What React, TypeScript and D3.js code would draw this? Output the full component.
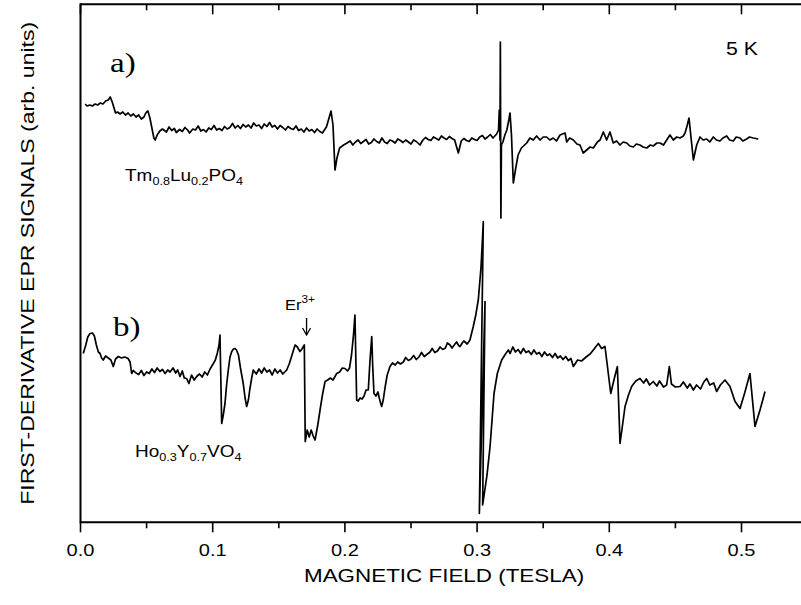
import React from "react";
import * as d3 from "d3";

// EPR traces: [magnetic field (T), first-derivative signal (arb. units, offset per trace)]
const traceA: [number, number][] = [
  [0.0035,79.2],[0.005,78.8],[0.007,79.0],[0.009,78.8],[0.011,79.2],[0.013,79.0],[0.015,79.4],[0.017,79.2],[0.019,79.8],[0.021,80.0],[0.0225,80.6],[0.024,79.6],
  [0.0265,77.4],[0.028,77.6],[0.030,77.2],[0.032,77.6],[0.034,77.0],[0.036,77.4],[0.038,76.8],[0.040,77.2],[0.042,76.6],[0.044,77.0],[0.046,76.2],[0.048,76.6],
  [0.049,77.2],[0.050,77.6],[0.051,77.8],[0.0525,76.4],[0.054,74.4],[0.0555,72.4],[0.0565,72.0],[0.058,73.0],[0.060,73.8],[0.062,74.2],
  [0.065,73.6],[0.067,74.6],[0.069,73.9],[0.071,74.3],[0.0725,73.5],[0.075,74.1],[0.077,73.7],[0.079,74.5],[0.081,74.0],[0.0825,73.4],[0.085,74.2],[0.087,74.0],
  [0.089,74.8],[0.091,73.8],[0.093,74.1],[0.095,73.6],[0.097,74.4],[0.099,74.1],[0.101,74.9],[0.103,74.0],[0.105,74.3],[0.107,73.9],[0.109,74.7],[0.111,74.2],
  [0.113,74.5],[0.115,75.3],[0.117,74.4],[0.119,74.9],[0.121,74.3],[0.123,75.1],[0.125,74.6],[0.127,75.0],[0.129,74.4],[0.131,75.4],[0.133,74.8],[0.135,75.0],
  [0.137,74.3],[0.139,75.2],[0.141,74.7],[0.143,75.5],[0.145,74.6],[0.147,74.9],[0.149,74.2],[0.151,74.9],[0.153,74.5],[0.155,74.0],[0.157,74.7],[0.159,74.3],
  [0.161,74.1],[0.163,74.8],[0.165,73.9],[0.167,74.2],[0.169,73.6],[0.171,74.4],[0.173,73.8],[0.175,74.1],[0.177,73.5],[0.179,74.2],[0.181,73.7],[0.183,73.4],
  [0.185,74.2],[0.186,74.6],[0.188,76.4],[0.1895,77.8],[0.191,75.0],[0.1925,66.0],[0.194,68.4],[0.196,70.4],
  [0.199,71.0],[0.2016,71.4],[0.204,71.8],[0.206,71.0],[0.208,71.6],[0.210,72.0],[0.212,71.3],[0.214,71.7],[0.216,72.1],[0.218,71.2],[0.220,71.5],[0.222,72.2],
  [0.224,71.7],[0.226,71.4],[0.228,72.4],[0.230,71.6],[0.232,71.3],[0.234,72.0],[0.236,71.8],[0.238,71.4],[0.240,72.2],[0.242,71.9],[0.244,71.5],[0.246,72.0],
  [0.248,71.6],[0.250,71.2],[0.252,72.0],[0.254,71.7],[0.2568,71.0],[0.259,72.0],[0.261,72.5],[0.263,72.1],[0.265,71.9],[0.267,72.6],[0.269,72.3],[0.271,72.0],
  [0.273,72.8],[0.275,72.4],[0.277,72.1],[0.279,72.7],[0.281,72.3],[0.283,72.0],[0.2858,69.4],[0.288,71.8],[0.290,72.3],[0.292,71.9],[0.294,71.7],[0.296,72.4],
  [0.298,72.1],[0.300,71.9],[0.302,72.6],[0.304,72.9],[0.306,72.2],[0.308,72.6],[0.310,73.1],[0.312,72.4],[0.3148,73.2],[0.3162,74.0],[0.3168,78.0],[0.3173,72.0],
  [0.3176,91.6],[0.3180,56.4],[0.3184,71.0],[0.3195,71.6],
  [0.321,73.0],[0.3225,74.0],[0.324,76.0],[0.3249,77.4],[0.326,73.0],[0.3274,63.4],[0.329,66.0],[0.331,69.0],[0.3335,70.4],[0.3375,71.4],[0.340,72.4],
  [0.3425,72.0],[0.345,72.8],[0.3476,72.0],[0.350,72.6],[0.3526,72.6],[0.355,72.0],[0.3576,72.4],[0.360,71.8],[0.3627,73.0],[0.3665,73.4],[0.3678,71.6],
  [0.370,72.4],[0.3728,72.0],[0.3755,71.2],[0.3778,71.0],[0.3803,69.4],[0.3829,70.0],[0.3855,70.6],[0.3879,70.4],[0.391,71.6],[0.393,72.0],[0.3955,73.6],
  [0.398,72.0],[0.4005,73.6],[0.403,71.4],[0.4055,71.8],[0.4081,71.0],[0.4105,71.6],[0.4132,71.4],[0.4155,70.8],[0.4182,70.6],[0.4205,71.2],[0.4232,71.0],
  [0.4255,70.6],[0.4283,70.4],[0.431,71.0],[0.4333,70.8],[0.436,71.4],[0.4384,71.4],[0.441,71.0],[0.4434,72.0],[0.4459,73.0],[0.4484,72.0],[0.451,72.6],
  [0.4535,72.4],[0.456,72.8],[0.4573,73.4],[0.459,75.0],[0.4603,76.4],[0.462,72.0],[0.4636,68.0],[0.4661,71.0],[0.4686,72.6],[0.471,72.0],[0.4737,72.2],
  [0.476,71.6],[0.4787,72.6],[0.481,72.0],[0.4837,71.8],[0.486,72.4],[0.4888,72.8],[0.491,72.0],[0.4938,71.8],[0.496,72.6],[0.4989,72.4],[0.501,71.8],
  [0.5039,72.2],[0.506,72.6],[0.5089,72.4],[0.5127,72.2],
];

const traceB: [number, number][] = [
  [0.0021,29.3],[0.004,31.0],[0.0055,32.6],[0.0072,33.3],[0.009,33.4],[0.0105,32.8],[0.012,31.0],[0.0135,29.6],[0.0148,29.3],[0.016,28.4],[0.0172,28.0],
  [0.019,28.8],[0.021,28.4],[0.023,28.0],[0.0248,26.7],[0.0265,28.2],[0.0286,28.7],[0.031,28.4],[0.0335,28.6],[0.036,28.3],[0.0375,27.6],[0.0387,25.3],
  [0.040,25.9],[0.042,25.4],[0.044,25.1],[0.046,25.9],[0.048,24.9],[0.050,25.6],[0.052,25.3],[0.054,26.2],[0.056,25.5],[0.058,26.4],[0.060,25.7],[0.062,26.1],
  [0.064,25.3],[0.066,26.0],[0.0677,25.6],[0.070,26.4],[0.072,25.4],[0.0735,26.0],[0.0753,24.7],[0.077,25.8],[0.0785,24.4],[0.0803,24.3],[0.082,23.3],[0.084,25.0],
  [0.086,24.0],[0.0879,24.7],[0.090,25.2],[0.092,24.6],[0.094,25.6],[0.096,25.0],[0.098,26.2],[0.1005,27.3],[0.102,28.0],[0.1035,29.4],[0.1048,31.0],
  [0.1055,33.0],[0.1068,15.3],[0.108,17.0],[0.1093,19.3],[0.1105,23.0],[0.1118,26.0],[0.1131,28.6],[0.1144,29.7],[0.1157,30.2],[0.1169,30.3],[0.118,30.0],
  [0.1195,29.0],[0.121,26.4],[0.1231,23.3],[0.1245,20.4],[0.1257,18.7],[0.127,20.0],[0.128,22.0],[0.1295,24.4],[0.1307,26.0],[0.133,25.2],[0.135,26.2],
  [0.137,25.4],[0.139,26.4],[0.141,25.6],[0.143,26.0],[0.145,25.0],[0.147,26.2],[0.149,25.4],[0.151,26.0],[0.153,25.2],[0.156,26.0],[0.158,27.3],[0.160,29.0],
  [0.1623,31.0],[0.164,30.6],[0.166,29.7],[0.1675,30.2],[0.1693,31.0],[0.1700,11.7],[0.1715,14.0],[0.173,12.6],[0.1745,14.0],[0.176,12.8],[0.1774,12.0],
  [0.1795,15.0],[0.1812,18.0],[0.183,21.0],[0.185,23.7],[0.187,24.0],[0.189,24.4],[0.191,24.0],[0.1938,25.3],[0.196,25.6],[0.198,26.4],[0.2001,26.3],
  [0.202,25.8],[0.2035,26.4],[0.205,29.0],[0.2065,33.0],[0.2076,37.0],[0.2089,20.0],[0.210,19.8],[0.2115,20.4],[0.213,20.2],[0.2145,20.8],[0.216,22.0],
  [0.2177,22.0],[0.219,28.0],[0.2203,32.7],[0.221,27.0],[0.222,21.3],[0.2235,20.8],[0.225,21.6],[0.226,20.4],[0.227,19.4],[0.2278,18.7],[0.229,20.0],
  [0.2305,22.7],[0.232,25.0],[0.2341,26.7],[0.236,27.4],[0.238,27.0],[0.240,27.6],[0.242,27.2],[0.2442,27.6],[0.246,28.5],[0.248,27.9],[0.250,28.2],
  [0.252,28.9],[0.254,28.1],[0.256,28.6],[0.258,29.5],[0.260,28.7],[0.262,29.1],[0.2644,29.6],[0.266,30.3],[0.268,29.5],[0.270,29.8],[0.272,30.6],[0.274,30.1],
  [0.276,30.4],[0.2775,31.4],[0.2795,31.0],[0.281,30.4],[0.283,31.1],[0.2845,31.6],[0.286,30.9],[0.2871,30.7],[0.289,31.5],[0.290,31.8],[0.2925,31.2],
  [0.2946,32.0],[0.2971,34.7],[0.299,37.0],[0.3009,40.0],[0.303,46.7],[0.3047,55.7],[0.3017,-2.7],[0.306,39.7],
  [0.3042,-1.0],[0.3075,5.0],[0.3098,10.7],[0.3113,16.0],[0.3128,21.3],[0.3153,25.3],[0.3186,28.0],[0.321,29.0],[0.3236,30.0],[0.325,29.3],[0.327,30.6],
  [0.329,29.6],[0.331,30.1],[0.333,29.3],[0.335,30.3],[0.337,29.5],[0.339,29.8],[0.341,29.1],[0.343,30.0],[0.345,29.2],[0.347,29.5],[0.349,28.7],[0.351,29.6],
  [0.353,28.9],[0.355,29.2],[0.357,28.5],[0.359,29.3],[0.361,28.4],[0.363,28.8],[0.365,28.1],[0.367,28.7],[0.369,27.9],[0.371,28.3],[0.3728,26.7],[0.376,28.0],
  [0.379,27.8],[0.3829,28.7],[0.3855,29.2],[0.3879,30.0],[0.3917,31.3],[0.3942,30.3],[0.3967,30.7],[0.398,28.0],[0.4011,21.3],[0.4035,24.0],[0.4061,26.7],
  [0.407,20.0],[0.4081,11.3],[0.4095,14.0],[0.4119,18.7],[0.4145,21.0],[0.4169,22.7],[0.420,23.8],[0.4232,24.3],[0.426,23.4],[0.428,24.2],[0.4305,23.0],
  [0.4333,23.7],[0.436,22.8],[0.438,23.8],[0.441,22.6],[0.4434,23.0],[0.4454,26.7],[0.447,23.2],[0.450,22.6],[0.4535,22.7],[0.456,23.6],[0.459,22.4],
  [0.461,23.2],[0.4636,22.0],[0.466,23.0],[0.469,22.2],[0.4715,23.6],[0.4737,24.3],[0.476,23.0],[0.479,23.4],[0.4812,21.7],[0.484,23.0],[0.4875,24.0],
  [0.4913,22.7],[0.4951,19.7],[0.4989,18.3],[0.5025,21.5],[0.5064,25.3],[0.5083,20.0],[0.5102,14.7],[0.514,18.0],[0.5178,21.7],
];

const xMajorTicks = [0, 0.1, 0.2, 0.3, 0.4, 0.5];
const xMinorTicks = [0.05, 0.15, 0.25, 0.35, 0.45];
const xTitle = "MAGNETIC FIELD (TESLA)";
const yTitle = "FIRST-DERIVATIVE EPR SIGNALS (arb. units)";
const erField = 0.171;

const SANS = "'Liberation Sans', Arial, sans-serif";
const SERIF = "'Liberation Serif', 'Times New Roman', serif";
const SX = 1.18;

export default function App() {
  const W = 801, H = 605;
  const x = d3.scaleLinear().domain([0, 0.55]).range([80.5, 807.6]);
  const y = d3.scaleLinear().domain([-4.46, 99.14]).range([522.3, 4.3]);
  const line = d3.line<[number, number]>().x(d => x(d[0])).y(d => y(d[1]));
  const [x0, x1] = x.range();
  const [yb, yt] = y.range();
  const fmt = d3.format(".1f");
  const ax = x(erField);

  return (
    <svg width={W} height={H} style={{ position: "absolute", left: 0, top: 0, background: "#fff" }}>
      <rect x={0} y={0} width={W} height={H} fill="#fff" />
      <g stroke="#000" strokeWidth={2} fill="none">
        <line x1={x0} y1={yt} x2={x1} y2={yt} />
        <line x1={x0} y1={yb} x2={x1} y2={yb} />
        <line x1={x0} y1={yt - 1} x2={x0} y2={yb + 1} />
        <line x1={x1} y1={yt} x2={x1} y2={yb} />
      </g>
      <g stroke="#000" strokeWidth={1.6}>
        {xMajorTicks.map(v => (
          <g key={"M" + v}>
            <line x1={x(v)} x2={x(v)} y1={yb} y2={yb + 10} />
            <line x1={x(v)} x2={x(v)} y1={yt} y2={yt + 10} />
          </g>
        ))}
        {xMinorTicks.map(v => (
          <g key={"m" + v}>
            <line x1={x(v)} x2={x(v)} y1={yb} y2={yb + 6} />
            <line x1={x(v)} x2={x(v)} y1={yt} y2={yt + 6} />
          </g>
        ))}
      </g>
      <g fontFamily={SANS} fontSize={17} fill="#000" textAnchor="middle">
        {xMajorTicks.map(v => (
          <text key={"t" + v} transform={`translate(${x(v)},${555.7}) scale(${SX},1)`}>{fmt(v)}</text>
        ))}
      </g>
      <text transform={`translate(${(x0 + x1) / 2},${582}) scale(${SX},1)`} fontFamily={SANS} fontSize={19} textAnchor="middle">{xTitle}</text>
      <text transform={`translate(33.5,${(yt + yb) / 2}) rotate(-90)`} fontFamily={SANS} fontSize={19} textAnchor="middle"
        textLength={483} lengthAdjust="spacingAndGlyphs">{yTitle}</text>

      <path d={line(traceA) || ""} fill="none" stroke="#000" strokeWidth={1.7} strokeLinejoin="round" />
      <path d={line(traceB) || ""} fill="none" stroke="#000" strokeWidth={1.7} strokeLinejoin="round" />

      <text transform={`translate(110,72) scale(${SX},1)`} fontFamily={SERIF} fontSize={28}>a)</text>
      <text transform={`translate(113,336) scale(${SX},1)`} fontFamily={SERIF} fontSize={28}>b)</text>
      <text transform={`translate(726,55) scale(1.12,1)`} fontFamily={SANS} fontSize={19}>5 K</text>
      <text transform={`translate(125,181) scale(1.15,1)`} fontFamily={SANS} fontSize={16.5}>
        Tm<tspan fontSize={11} dy={4}>0.8</tspan><tspan dy={-4}>Lu</tspan><tspan fontSize={11} dy={4}>0.2</tspan><tspan dy={-4}>PO</tspan><tspan fontSize={11} dy={4}>4</tspan>
      </text>
      <text transform={`translate(135,456.5) scale(1.15,1)`} fontFamily={SANS} fontSize={16.5}>
        Ho<tspan fontSize={11} dy={4}>0.3</tspan><tspan dy={-4}>Y</tspan><tspan fontSize={11} dy={4}>0.7</tspan><tspan dy={-4}>VO</tspan><tspan fontSize={11} dy={4}>4</tspan>
      </text>
      <text transform={`translate(285,310) scale(1.18,1)`} fontFamily={SANS} fontSize={14}>
        Er<tspan fontSize={10} dy={-7}>3+</tspan>
      </text>
      <g stroke="#000" strokeWidth={1.3} fill="none">
        <line x1={ax} x2={ax} y1={318} y2={335} />
        <polyline points={`${ax - 4},${328} ${ax},${335} ${ax + 4},${328}`} />
      </g>
    </svg>
  );
}
